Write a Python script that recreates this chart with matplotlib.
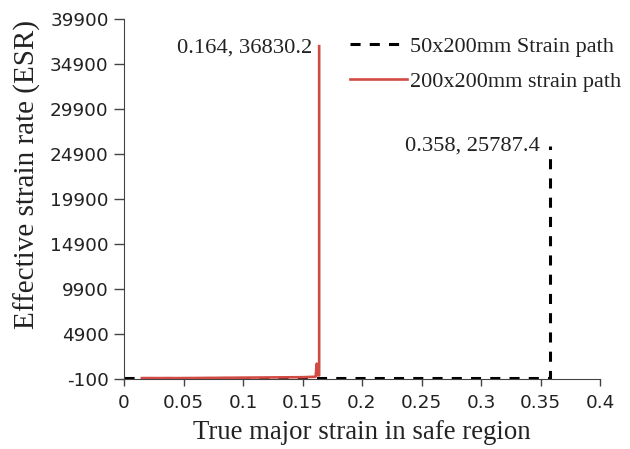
import matplotlib
matplotlib.use("Agg")
import matplotlib.pyplot as plt

# Data
black_x = [0.0, 0.05, 0.1, 0.15, 0.2, 0.25, 0.3, 0.355, 0.358, 0.358]
black_y = [0, 0, 0, 0, 0, 0, 0, 0, 0, 25787.4]
red_x = [0.015, 0.05, 0.1, 0.15, 0.161, 0.162, 0.1625, 0.163, 0.164, 0.164]
red_y = [0, 0, 50, 100, 150, 1600, 400, 300, 300, 36830.2]

xticks = [0, 0.05, 0.1, 0.15, 0.2, 0.25, 0.3, 0.35, 0.4]
xtick_labels = ["0", "0.05", "0.1", "0.15", "0.2", "0.25", "0.3", "0.35", "0.4"]
yticks = [-100, 4900, 9900, 14900, 19900, 24900, 29900, 34900, 39900]

serif = "Liberation Serif"
sans = "DejaVu Sans"

fig = plt.figure(figsize=(6.3, 4.49), dpi=100)
ax = fig.add_axes([124 / 630, 70 / 449, 476 / 630, 360.5 / 449])

ax.plot(black_x, black_y, color="black", lw=2.2, ls=(0, (3.3, 3.0)),
        label="50x200mm Strain path", zorder=2)
ax.plot(red_x, red_y, color="#d24a44", lw=1.9, label="200x200mm strain path", zorder=3)

ax.set_xlim(0, 0.4)
ax.set_ylim(-100, 39900)
ax.set_xticks(xticks)
ax.set_xticklabels(xtick_labels)
ax.set_yticks(yticks)
ax.set_yticklabels([str(v) for v in yticks])
for lab in ax.get_xticklabels() + ax.get_yticklabels():
    lab.set_fontfamily(sans)
    lab.set_fontsize(13.3)
    lab.set_color("#222222")
ax.tick_params(axis="y", direction="out", length=7, width=1, colors="#444444", labelcolor="#222222", pad=4)
ax.tick_params(axis="x", direction="out", length=5, width=1, colors="#444444", labelcolor="#222222", pad=6)
for s in ["top", "right"]:
    ax.spines[s].set_visible(False)
for s in ["left", "bottom"]:
    ax.spines[s].set_color("#444444")

ax.set_xlabel("True major strain in safe region", fontfamily=serif, fontsize=19.3, color="#222222")
ax.set_ylabel("Effective strain rate (ESR)", fontfamily=serif, fontsize=21, color="#222222")
ax.xaxis.set_label_coords(0.5, -0.115)
ax.yaxis.set_label_coords(-0.175, 0.567)

ax.annotate("0.164, 36830.2", xy=(0.164, 36830.2), xytext=(-5, -1), textcoords="offset points",
            ha="right", va="center", fontfamily=serif, fontsize=16.2, color="#222222")
ax.annotate("0.358, 25787.4", xy=(0.358, 25787.4), xytext=(-7, 0), textcoords="offset points",
            ha="right", va="center", fontfamily=serif, fontsize=16.2, color="#222222")

leg = fig.legend(loc="upper left", bbox_to_anchor=(350 / 630, 1 - 36 / 449), frameon=False,
                 prop={"family": serif, "size": 16}, handlelength=2.55, handletextpad=0.15,
                 labelspacing=0.68, borderpad=0, borderaxespad=0)
for t in leg.get_texts():
    t.set_color("#222222")

fig.savefig("out.png", dpi=100)
